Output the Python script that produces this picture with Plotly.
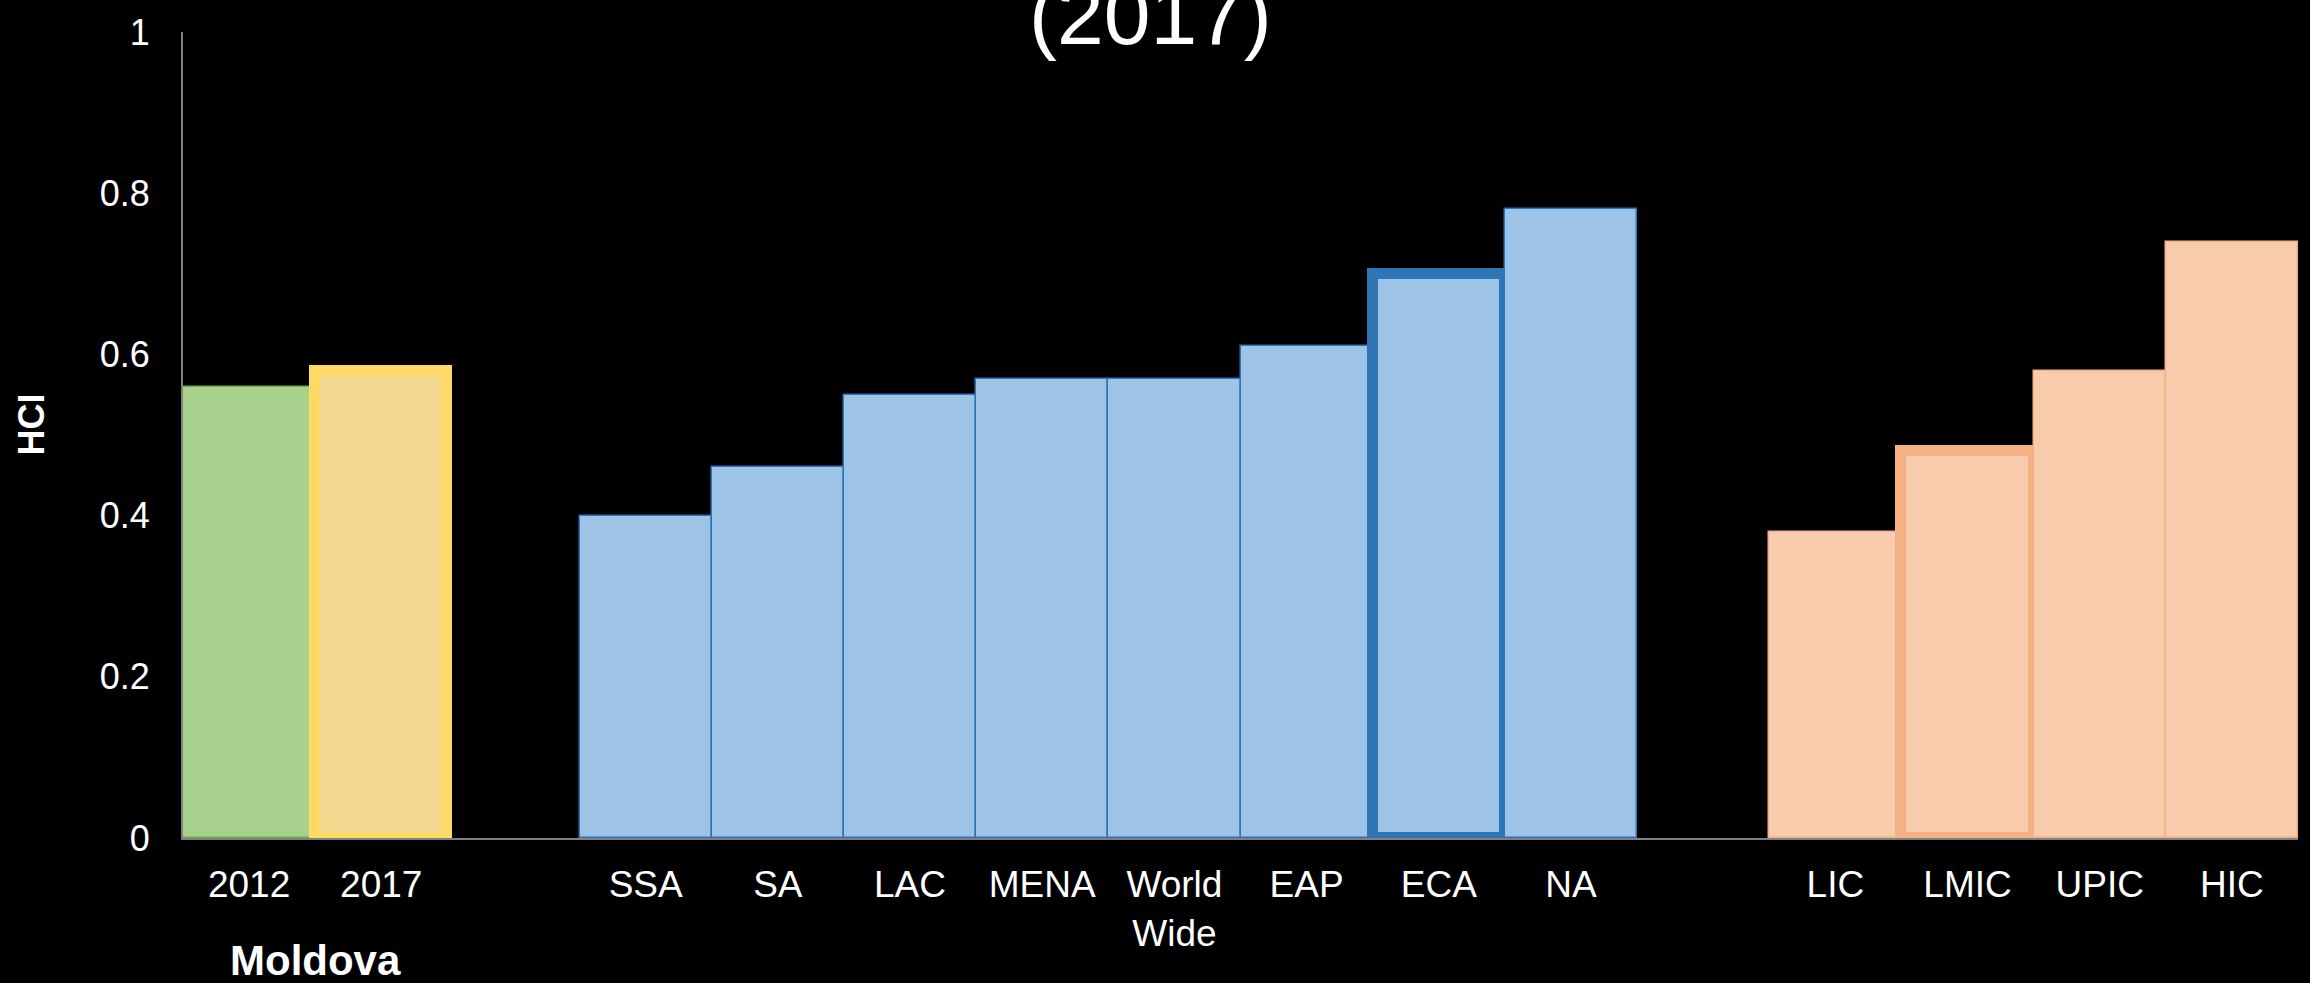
import plotly.graph_objects as go

# ---- data ----
categories = ["2012", "2017", " ", "SSA", "SA", "LAC", "MENA", "World<br>Wide",
              "EAP", "ECA", "NA", "  ", "LIC", "LMIC", "UPIC", "HIC"]
hci_values = [0.56, 0.58, None, 0.40, 0.46, 0.55, 0.57, 0.57,
              0.61, 0.70, 0.78, None, 0.38, 0.48, 0.58, 0.74]
y_ticks = [0, 0.2, 0.4, 0.6, 0.8, 1]
y_tick_labels = ["0", "0.2", "0.4", "0.6", "0.8", "1"]
title_text = "(2017)"
group_label = "Moldova"
y_title = "HCI"

# ---- styles ----
GREEN_F, GREEN_L = "#A9D18E", "#70AD47"
YELLOW_F, YELLOW_L = "#F1D98F", "#FFD966"
BLUE_F, BLUE_L = "#9DC3E6", "#2E75B6"
ORANGE_F, ORANGE_L = "#F8CBAD", "#F4B183"

fills = [GREEN_F, YELLOW_F, "rgba(0,0,0,0)"] + [BLUE_F] * 8 + ["rgba(0,0,0,0)"] + [ORANGE_F] * 4
lines = [GREEN_L, YELLOW_L, "rgba(0,0,0,0)"] + [BLUE_L] * 8 + ["rgba(0,0,0,0)"] + [ORANGE_L] * 4
widths = [1.5, 11, 0, 1.5, 1.5, 1.5, 1.5, 1.5, 1.5, 11, 1.5, 0, 1.5, 11, 1.5, 1.5]

FONT = "Liberation Sans, Arial, sans-serif"

fig = go.Figure(go.Bar(
    x=categories, y=hci_values,
    marker=dict(color=fills, line=dict(color=lines, width=widths)),
    width=1.0,
))

fig.update_layout(
    width=2310, height=983,
    paper_bgcolor="black", plot_bgcolor="black",
    margin=dict(l=183, r=12, t=23, b=145),
    bargap=0,
    showlegend=False,
    font=dict(family=FONT, color="white"),
    xaxis=dict(
        type="category", categoryorder="array", categoryarray=categories,
        range=[-0.5, 15.5],
        showgrid=False, zeroline=False,
        showline=True, linecolor="#808080", linewidth=2,
        ticks="", tickfont=dict(size=37, color="white", family=FONT),
        ticklabelstandoff=13,
    ),
    yaxis=dict(
        range=[0, 1], tickvals=y_ticks, ticktext=y_tick_labels,
        showgrid=False, zeroline=False,
        showline=True, linecolor="#808080", linewidth=2,
        ticks="", tickfont=dict(size=36, color="white", family=FONT),
        ticklabelstandoff=24,
    ),
    annotations=[
        dict(text=title_text, xref="paper", yref="paper", x=(1150 - 183) / 2115, y=1 + (23 - 6) / 815,
             xanchor="center", yanchor="middle", showarrow=False,
             font=dict(size=84, color="white", family=FONT)),
        dict(text="<b>" + group_label + "</b>", xref="x", yref="paper", x=0.5, y=(838 - 962) / 815,
             xanchor="center", yanchor="middle", showarrow=False,
             font=dict(size=42, color="white", family=FONT)),
        dict(text="<b>" + y_title + "</b>", xref="paper", yref="paper", x=(32 - 183) / 2115,
             y=(838 - 420) / 815, textangle=-90,
             xanchor="center", yanchor="middle", showarrow=False,
             font=dict(size=36, color="white", family=FONT)),
    ],
)

fig.write_html("out.html", config={"displayModeBar": False},
               post_script="document.body.style.margin='0';document.body.style.overflow='hidden';document.body.style.background='black';")
